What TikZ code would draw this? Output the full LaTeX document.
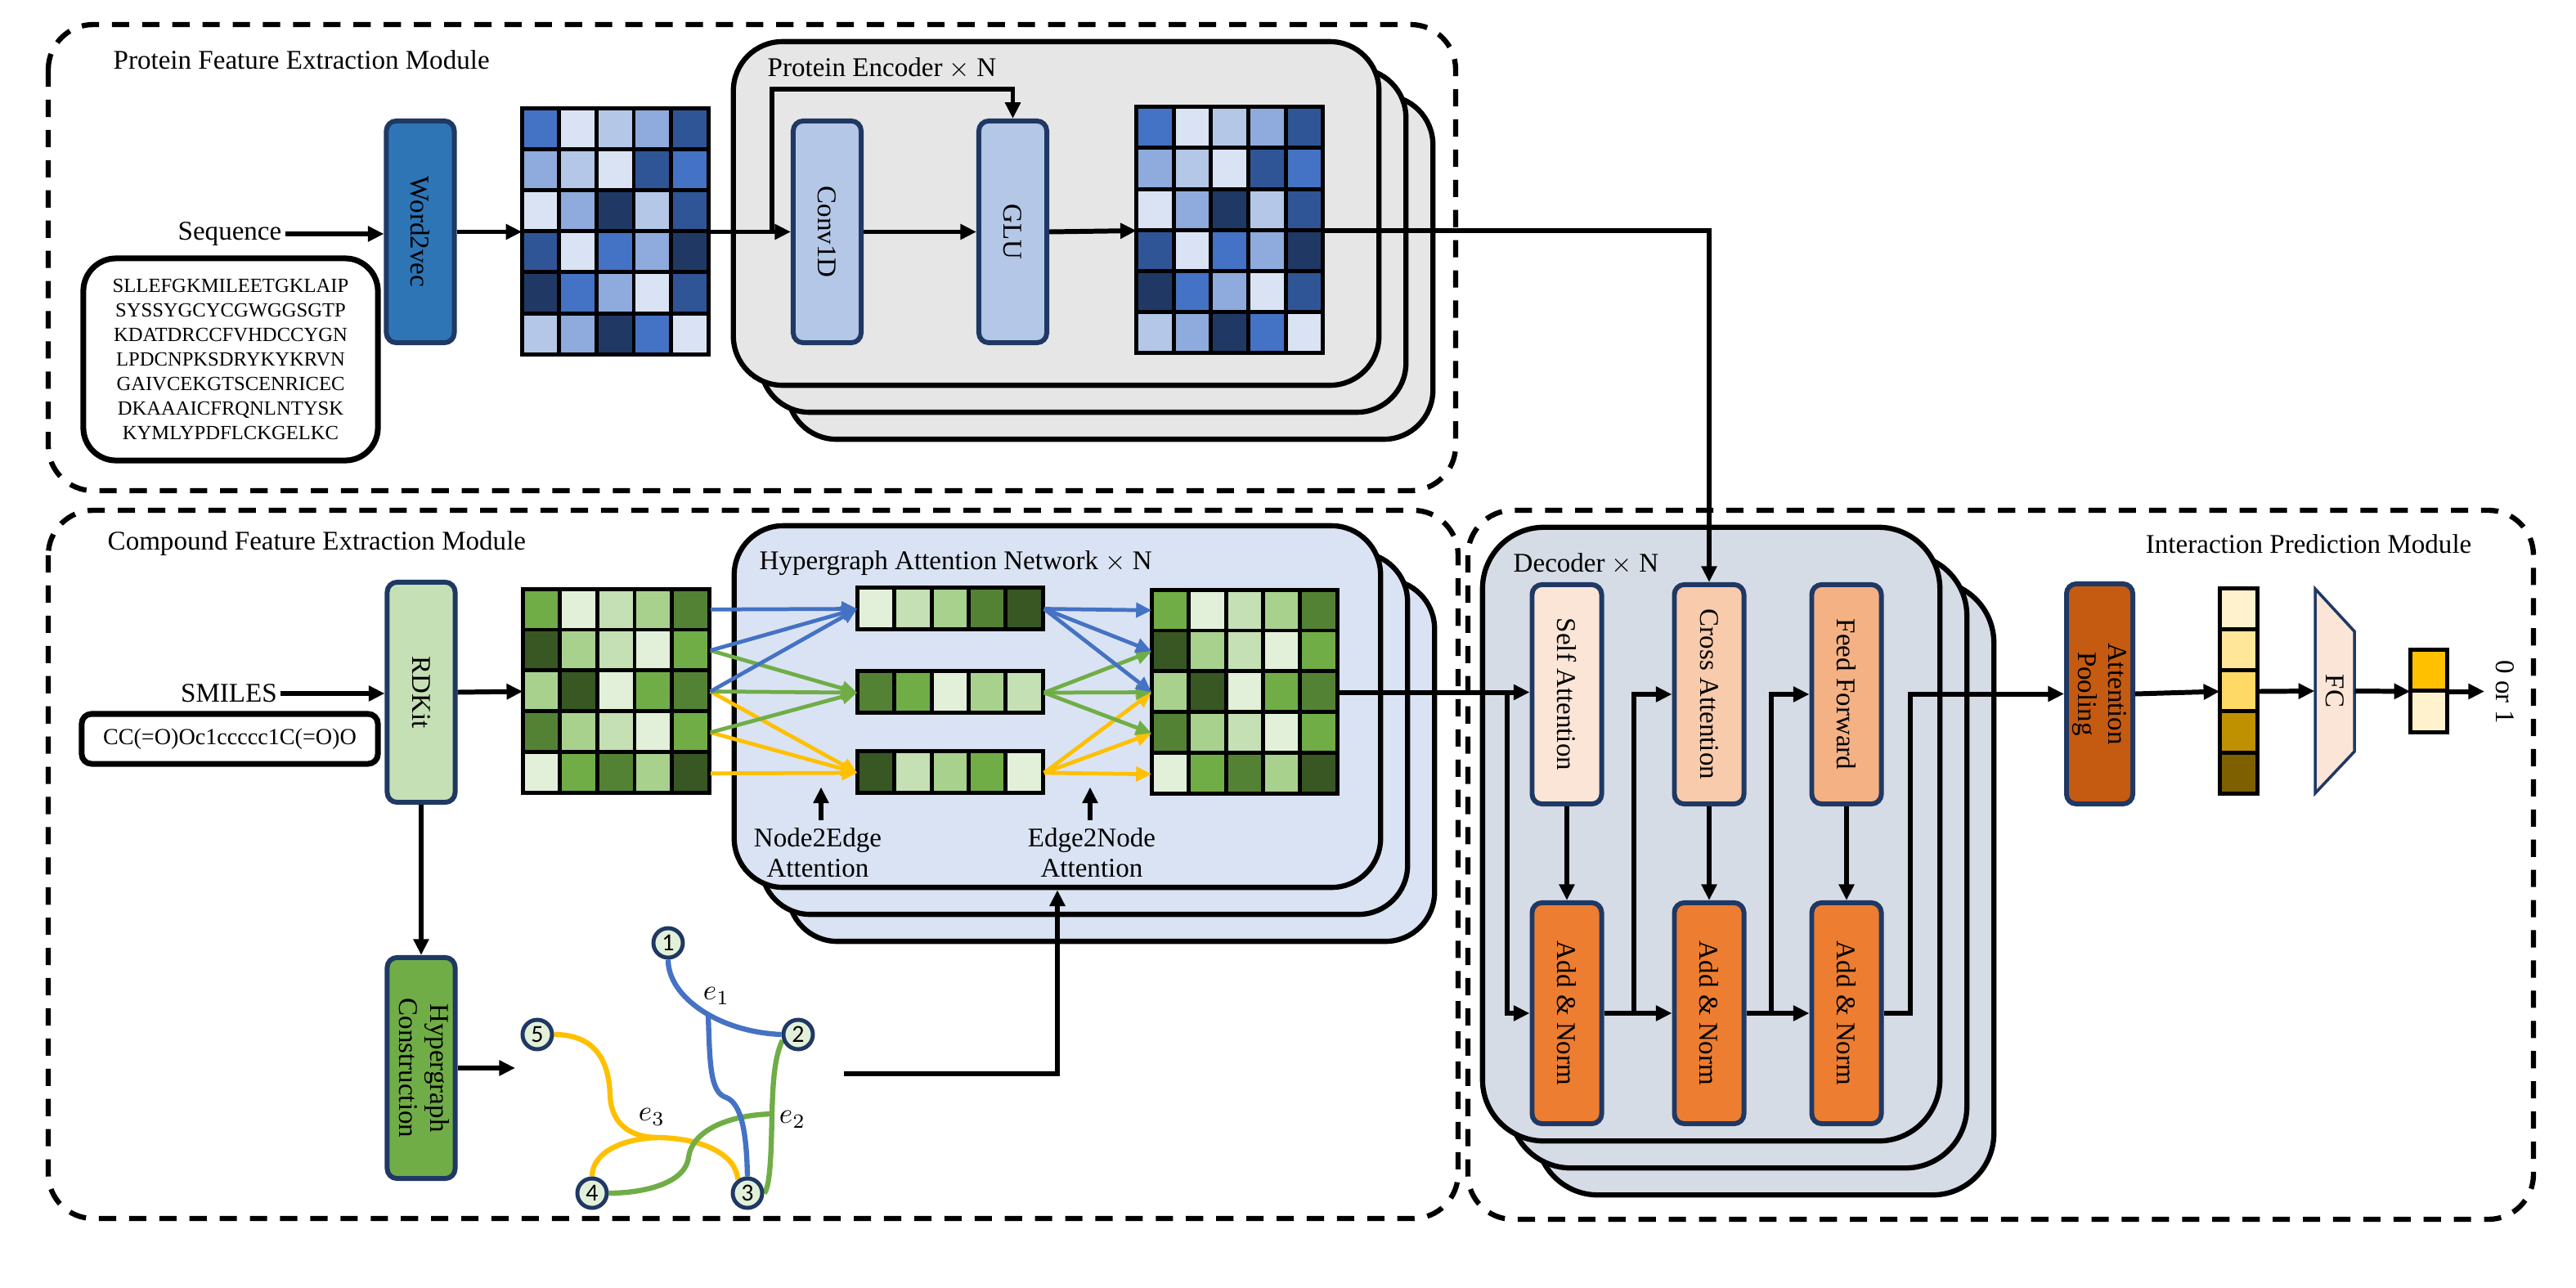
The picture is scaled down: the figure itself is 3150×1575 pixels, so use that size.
\documentclass[tikz,border=0pt]{standalone}
\usepackage{fontspec}
\setmainfont{Liberation Serif}
\newfontfamily\numfont{Carlito}
\usetikzlibrary{arrows.meta,calc}
\pgfdeclarelayer{background}
\pgfsetlayers{background,main}
\definecolor{navy}{HTML}{1F3864}
\definecolor{B1}{HTML}{DAE3F3}
\definecolor{B2}{HTML}{B4C7E7}
\definecolor{B3}{HTML}{8FAADC}
\definecolor{B4}{HTML}{4472C4}
\definecolor{B5}{HTML}{2F5597}
\definecolor{B6}{HTML}{203864}
\definecolor{G1}{HTML}{E2F0D9}
\definecolor{G2}{HTML}{C5E0B4}
\definecolor{G3}{HTML}{A9D18E}
\definecolor{G4}{HTML}{70AD47}
\definecolor{G5}{HTML}{548235}
\definecolor{G6}{HTML}{385723}
\definecolor{Y1}{HTML}{FFF2CC}
\definecolor{Y2}{HTML}{FFE699}
\definecolor{Y3}{HTML}{FFD966}
\definecolor{Y4}{HTML}{BF9000}
\definecolor{Y5}{HTML}{7F6000}
\definecolor{Y6}{HTML}{FFC000}
\definecolor{w2vblue}{HTML}{2E75B6}
\definecolor{encgray}{HTML}{E7E6E6}
\definecolor{hanblue}{HTML}{DAE3F3}
\definecolor{decgray}{HTML}{D6DCE5}
\definecolor{O1}{HTML}{FBE5D6}
\definecolor{O2}{HTML}{F8CBAD}
\definecolor{O3}{HTML}{F4B183}
\definecolor{O4}{HTML}{ED7D31}
\definecolor{O5}{HTML}{C55A11}
\definecolor{hblue}{HTML}{4472C4}
\definecolor{hgreen}{HTML}{70AD47}
\definecolor{hyellow}{HTML}{FFC000}
\newcommand\fmain{\fontsize{9.4pt}{10.6pt}\selectfont}
\newcommand\cellgrid[4]{%
  \foreach \rowlist [count=\r from 0] in {#4}{%
    \foreach \cc [count=\k from 0] in \rowlist{%
      \filldraw[cellst, fill=\cc] ($(#1.north west)+(\k*#2,\r*#3)$) rectangle ++(#2,#3);
    }%
  }%
}
\begin{document}
\begin{tikzpicture}[x=0.01cm,y=-0.01cm,
  every node/.style={font=\fmain},
  arr/.style={line width=1.7pt,-{Triangle[length=5.6pt,width=5.2pt]}},
  carr/.style={line width=1.35pt,-{Triangle[length=5.4pt,width=5pt]}},
  dashbox/.style={line width=1.8pt,dash pattern=on 6pt off 4.5pt,rounded corners=0.55cm},
  stackbox/.style={draw=black,line width=1.8pt,rounded corners=0.6cm,inner sep=0},
  blk/.style={draw=navy,line width=1.7pt,rounded corners=0.12cm,inner sep=0,minimum width=0.83cm},
  mat/.style={inner sep=0,draw=none},
  cellst/.style={draw=black,line width=1.4pt},
  ttl/.style={anchor=west,inner sep=0},
  hnode/.style={circle,draw=navy,line width=1.4pt,fill=G1,minimum size=0.36cm,inner sep=0,font=\numfont\fontsize{8.5pt}{9pt}\selectfont},
  hedge/.style={line width=1.8pt}
]
\useasboundingbox (0,0) rectangle (3150,1575);
\begin{pgfonlayer}{background}
\fill[white] (0,0) rectangle (3150,1575);
\end{pgfonlayer}

% ---------- module frames ----------
\draw[dashbox] (59,30) rectangle (1780,600);
\draw[dashbox] (59,624) rectangle (1783,1490);
\draw[dashbox] (1795,624) rectangle (3098,1491);
\node[ttl] (ptitle) at (138,73) {Protein Feature Extraction Module};
\node[ttl] (ctitle) at (131,665) {Compound Feature Extraction Module};
\node[anchor=east,inner sep=0] (ititle) at (3023,665) {Interaction Prediction Module};

% ---------- stacks ----------
\foreach \n/\dx in {encB2/66,encB1/33,encF/0}
  \node[stackbox,fill=encgray,minimum width=7.89cm,minimum height=4.20cm] (\n) at (1291.5+\dx,261+\dx) {};
\foreach \n/\dx in {hanB2/66,hanB1/33,hanF/0}
  \node[stackbox,fill=hanblue,minimum width=7.90cm,minimum height=4.42cm] (\n) at (1293+\dx,864+\dx) {};
\foreach \n/\dx in {decB2/66,decB1/33,decF/0}
  \node[stackbox,fill=decgray,rounded corners=0.75cm,minimum width=5.59cm,minimum height=7.50cm] (\n) at (2092.5+\dx,1020+\dx) {};
\node[ttl] (enctitle) at (938,83) {Protein Encoder $\times$ N};
\node[ttl] (hantitle) at (928,689) {Hypergraph Attention Network $\times$ N};
\node[ttl] (dectitle) at (1850,689) {Decoder $\times$ N};

% ---------- protein branch ----------
\node[inner sep=1pt] (seq) at (281,286) {Sequence};
\node[draw=black,line width=2pt,rounded corners=0.4cm,minimum width=3.60cm,minimum height=2.47cm,align=center,
      font=\fontsize{7pt}{8.5pt}\selectfont] (seqbox) at (282,439.5)
  {SLLEFGKMILEETGKLAIP\\SYSSYGCYCGWGGSGTP\\KDATDRCCFVHDCCYGN\\LPDCNPKSDRYKYKRVN\\GAIVCEKGTSCENRICEC\\DKAAAICFRQNLNTYSK\\KYMLYPDFLCKGELKC};
\node[blk,fill=w2vblue,minimum height=2.71cm] (w2v) at (514,283.5) {\rotatebox{-90}{Word2vec}};
\node[mat,minimum width=2.28cm,minimum height=3.01cm] (m1) at (753,283.5) {};
\cellgrid{m1}{45.6}{50.17}{{B4,B1,B2,B3,B5},{B3,B2,B1,B5,B4},{B1,B3,B6,B2,B5},{B5,B1,B4,B3,B6},{B6,B4,B3,B1,B5},{B2,B3,B6,B4,B1}}
\node[blk,fill=B2,minimum height=2.71cm] (conv) at (1011.5,283.5) {\rotatebox{-90}{Conv1D}};
\node[blk,fill=B2,minimum height=2.71cm] (glu) at (1238.5,283.5) {\rotatebox{-90}{GLU}};
\node[mat,minimum width=2.28cm,minimum height=3.01cm] (m2) at (1504.5,282) {};
\cellgrid{m2}{45.6}{50.17}{{B4,B1,B2,B3,B5},{B3,B2,B1,B5,B4},{B1,B3,B6,B2,B5},{B5,B1,B4,B3,B6},{B6,B4,B3,B1,B5},{B2,B3,B6,B4,B1}}

\draw[arr] (seq.east) -- (seq.east -| w2v.west);
\draw[arr] (w2v.east) -- (m1.west);
\draw[arr] (m1.east) -- (conv.west);
\coordinate (sk) at (944,283.5);
\coordinate (skt) at (944,109);
\draw[arr] (sk) -- (skt) -| (glu.north);
\draw[arr] (conv.east) -- (glu.west);
\draw[arr] (glu.east) -- (m2.west);

% ---------- compound branch ----------
\node[inner sep=1pt] (smi) at (280,848) {SMILES};
\node[draw=black,line width=2pt,rounded corners=0.12cm,minimum width=3.62cm,minimum height=0.61cm,
      font=\fontsize{8pt}{9pt}\selectfont] (smibox) at (281,903.5) {CC(=O)Oc1ccccc1C(=O)O};
\node[blk,fill=G2,minimum height=2.69cm] (rdkit) at (515,846.5) {\rotatebox{-90}{RDKit}};
\node[mat,minimum width=2.28cm,minimum height=2.49cm] (m3) at (754,845.5) {};
\cellgrid{m3}{45.6}{49.8}{{G4,G1,G2,G3,G5},{G6,G3,G2,G1,G4},{G3,G6,G1,G4,G5},{G5,G3,G2,G1,G4},{G1,G4,G5,G3,G6}}
\node[blk,fill=G4,minimum height=2.70cm] (hc) at (515,1306)
  {\rotatebox{-90}{\begin{tabular}{@{}c@{}}Hypergraph\\Construction\end{tabular}}};
\draw[arr] (smi.east) -- (smi.east -| rdkit.west);
\draw[arr] (rdkit.east) -- (m3.west);
\draw[arr] (rdkit.south) -- (hc.north);
\coordinate (hgin) at (630,1306);
\draw[arr] (hc.east) -- (hgin);

% edge vectors and output matrix
\node[mat,minimum width=2.27cm,minimum height=0.51cm] (ev1) at (1162.5,744.5) {};
\node[mat,minimum width=2.27cm,minimum height=0.51cm] (ev2) at (1162.5,847) {};
\node[mat,minimum width=2.27cm,minimum height=0.51cm] (ev3) at (1162.5,945) {};
\cellgrid{ev1}{45.4}{51}{{G1,G2,G3,G5,G6}}
\cellgrid{ev2}{45.4}{51}{{G5,G4,G1,G3,G2}}
\cellgrid{ev3}{45.4}{51}{{G6,G2,G3,G4,G1}}
\node[mat,minimum width=2.27cm,minimum height=2.49cm] (m4) at (1522.5,846.5) {};
\cellgrid{m4}{45.4}{49.8}{{G4,G1,G2,G3,G5},{G6,G3,G2,G1,G4},{G3,G6,G1,G4,G5},{G5,G3,G2,G1,G4},{G1,G4,G5,G3,G6}}

\foreach \s/\t/\col in {5/3/hyellow,4/3/hyellow,3/3/hyellow,4/2/hgreen,3/2/hgreen,2/2/hgreen,3/1/hblue,2/1/hblue,1/1/hblue}{
  \draw[carr,\col] ($(m3.north east)!{(\s-0.5)/5}!(m3.south east)$) -- (ev\t.west);
  \draw[carr,\col] (ev\t.east) -- ($(m4.north west)!{(\s-0.5)/5}!(m4.south west)$);
}

\node[align=center,inner sep=1pt] (n2e) at (1000,1043) {Node2Edge\\Attention};
\node[align=center,inner sep=1pt] (e2n) at (1335,1043) {Edge2Node\\Attention};
\draw[arr] (n2e.north) ++(4,-6) -- ++(0,-40);
\draw[arr] (e2n.north) ++(-2,-6) -- ++(0,-40);

% ---------- hypergraph ----------
\node[hnode] (h1) at (817,1153) {1};
\node[hnode] (h2) at (976,1265) {2};
\node[hnode] (h3) at (914,1459) {3};
\node[hnode] (h4) at (724,1459) {4};
\node[hnode] (h5) at (657,1265) {5};
\coordinate (j1) at (866,1240);
\coordinate (j2) at (944,1362);
\coordinate (j3) at (805,1391);
\begin{pgfonlayer}{background}
\draw[hedge,hyellow] (h5.east) .. controls (730,1265) and (745,1300) .. (746,1340)
   .. controls (748,1378) and (775,1391) .. (j3);
\draw[hedge,hyellow] (j3) .. controls (760,1392) and (724,1410) .. (h4.north);
\draw[hedge,hyellow] (j3) .. controls (860,1392) and (900,1412) .. (h3.125);
\draw[hedge,hgreen] (h2.200) .. controls (946,1295) and (945,1330) .. (j2)
   .. controls (943,1420) and (941,1452) .. (h3.east);
\draw[hedge,hgreen] (j2) .. controls (885,1364) and (846,1385) .. (842,1415)
   .. controls (838,1448) and (785,1459) .. (h4.east);
\draw[hedge,hblue] (h1.south) .. controls (817,1220) and (880,1262) .. (h2.west);
\draw[hedge,hblue] (j1) .. controls (868,1300) and (868,1336) .. (888,1342)
   .. controls (908,1350) and (913,1390) .. (h3.north);
\end{pgfonlayer}
\node[inner sep=0,font=\fontsize{10pt}{10pt}\selectfont] (le1) at (876,1218) {$e_1$};
\node[inner sep=0,font=\fontsize{10pt}{10pt}\selectfont] (le2) at (969,1369) {$e_2$};
\node[inner sep=0,font=\fontsize{10pt}{10pt}\selectfont] (le3) at (797,1366) {$e_3$};
\coordinate (hgout) at (1032,1313);
\draw[arr] (hgout) -| (hanF.south);

% ---------- decoder ----------
\node[blk,fill=O1,minimum width=0.85cm,minimum height=2.68cm] (sa) at (1916,849) {\rotatebox{-90}{Self Attention}};
\node[blk,fill=O2,minimum width=0.85cm,minimum height=2.68cm] (ca) at (2090,849) {\rotatebox{-90}{Cross Attention}};
\node[blk,fill=O3,minimum width=0.85cm,minimum height=2.68cm] (ff) at (2258,849) {\rotatebox{-90}{Feed Forward}};
\node[blk,fill=O4,minimum width=0.85cm,minimum height=2.70cm] (an1) at (1916,1239) {\rotatebox{-90}{Add \& Norm}};
\node[blk,fill=O4,minimum width=0.85cm,minimum height=2.70cm] (an2) at (2090,1239) {\rotatebox{-90}{Add \& Norm}};
\node[blk,fill=O4,minimum width=0.85cm,minimum height=2.70cm] (an3) at (2258,1239) {\rotatebox{-90}{Add \& Norm}};
\draw[arr] (m2.east) -| (ca.north);
\draw[arr] (m4.east) -- (m4.east -| sa.west);
\coordinate (d0) at (1843,846.5);
\draw[arr] (d0) |- (an1.west);
\draw[arr] (sa.south) -- (an1.north);
\draw[arr] (ca.south) -- (an2.north);
\draw[arr] (ff.south) -- (an3.north);
\draw[arr] (an1.east) -- (an2.west);
\draw[arr] (an2.east) -- (an3.west);
\coordinate (d1) at (1998,1239);
\coordinate (d2) at (2166,1239);
\draw[arr] (d1) |- (ca.west);
\draw[arr] (d2) |- (ff.west);

% ---------- prediction ----------
\node[blk,fill=O5,minimum width=0.81cm,minimum height=2.69cm] (ap) at (2567.5,848.5)
  {\rotatebox{-90}{\begin{tabular}{@{}c@{}}Attention\\Pooling\end{tabular}}};
\draw[arr] (an3.east) -- ++(32,0) |- (ap.west);
\node[mat,minimum width=0.46cm,minimum height=2.51cm] (vec) at (2738,845.5) {};
\cellgrid{vec}{46}{50.2}{{Y1},{Y2},{Y3},{Y4},{Y5}}
\draw[arr] (ap.east) -- (vec.west);
\filldraw[fill=O1,draw=navy,line width=1pt] (2831,720) -- (2831,970) -- (2879,919) -- (2879,772) -- cycle;
\node[inner sep=0,minimum width=0.48cm,minimum height=2.50cm] (fc) at (2855,845) {\rotatebox{-90}{FC}};
\draw[arr] (vec.east) -- (fc.west);
\node[mat,minimum width=0.45cm,minimum height=1.01cm] (out) at (2970.5,845.5) {};
\cellgrid{out}{45}{50.5}{{Y6},{Y1}}
\draw[arr] (fc.east) -- (out.west);
\node[inner sep=0] (res) at (3063,846) {\rotatebox{-90}{0 or 1}};
\coordinate (outtip) at (3038,845.5);
\draw[arr] (out.east) -- (outtip);
\end{tikzpicture}
\end{document}
